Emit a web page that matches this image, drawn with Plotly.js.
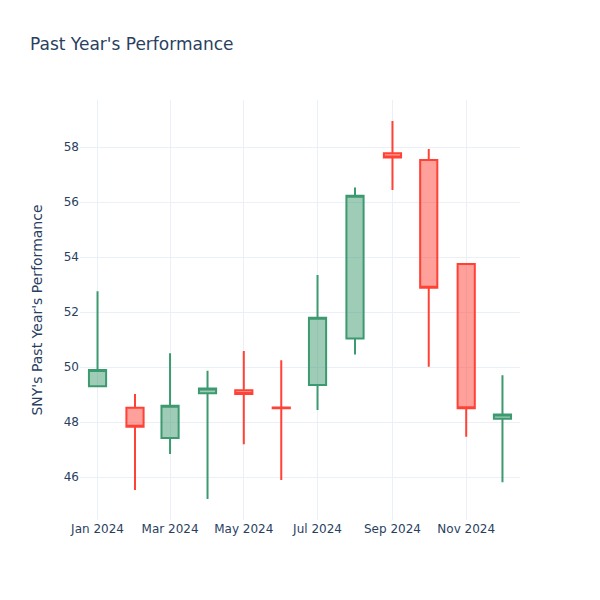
<!DOCTYPE html>
<html>
<head>
<meta charset="utf-8">
<script src="https://cdn.plot.ly/plotly-3.0.1.min.js"></script>
<style>html,body{margin:0;padding:0;background:#fff;}</style>
</head>
<body>
<div id="chart" style="width:600px;height:600px;"></div>
<script>
const dates = ["2024-01-01","2024-02-01","2024-03-01","2024-04-01","2024-05-01","2024-06-01",
               "2024-07-01","2024-08-01","2024-09-01","2024-10-01","2024-11-01","2024-12-01"];
const openVals  = [49.30, 48.52, 47.42, 49.05, 49.16, 48.53, 49.35, 51.04, 57.77, 57.53, 53.75, 48.12];
const highVals  = [52.76, 49.02, 50.50, 49.87, 50.58, 50.25, 53.35, 56.53, 58.95, 57.93, 53.75, 49.70];
const lowVals   = [49.28, 45.53, 46.84, 45.20, 47.19, 45.89, 48.44, 50.46, 56.44, 50.01, 47.47, 45.81];
const closeVals = [49.89, 47.83, 48.59, 49.22, 49.02, 48.50, 51.79, 56.23, 57.62, 52.88, 48.50, 48.28];

const trace = {
  type: 'candlestick',
  x: dates,
  open: openVals,
  high: highVals,
  low: lowVals,
  close: closeVals,
  increasing: {line: {color: '#3D9970'}},
  decreasing: {line: {color: '#FF4136'}},
  showlegend: false
};

const grid = '#EBF0F8';
const layout = {
  width: 600, height: 600,
  paper_bgcolor: '#fff', plot_bgcolor: '#fff',
  font: {family: '"DejaVu Sans", verdana, arial, sans-serif', color: '#2a3f5f', size: 12},
  title: {text: "Past Year's Performance", x: 0.05, font: {size: 17}},
  margin: {l: 80, r: 80, t: 100, b: 80},
  showlegend: false,
  xaxis: {
    type: 'date',
    rangeslider: {visible: false},
    gridcolor: grid, showline: false, zeroline: false,
    tickformat: '%b %Y', dtick: 'M2', tick0: '2024-01-01',
    ticks: ''
  },
  yaxis: {
    title: {text: "SNY's Past Year's Performance"},
    range: [44.44, 59.71],
    dtick: 2,
    gridcolor: grid, showline: false, zeroline: false,
    ticks: ''
  }
};

Plotly.newPlot('chart', [trace], layout, {displayModeBar: false});
</script>
</body>
</html>
